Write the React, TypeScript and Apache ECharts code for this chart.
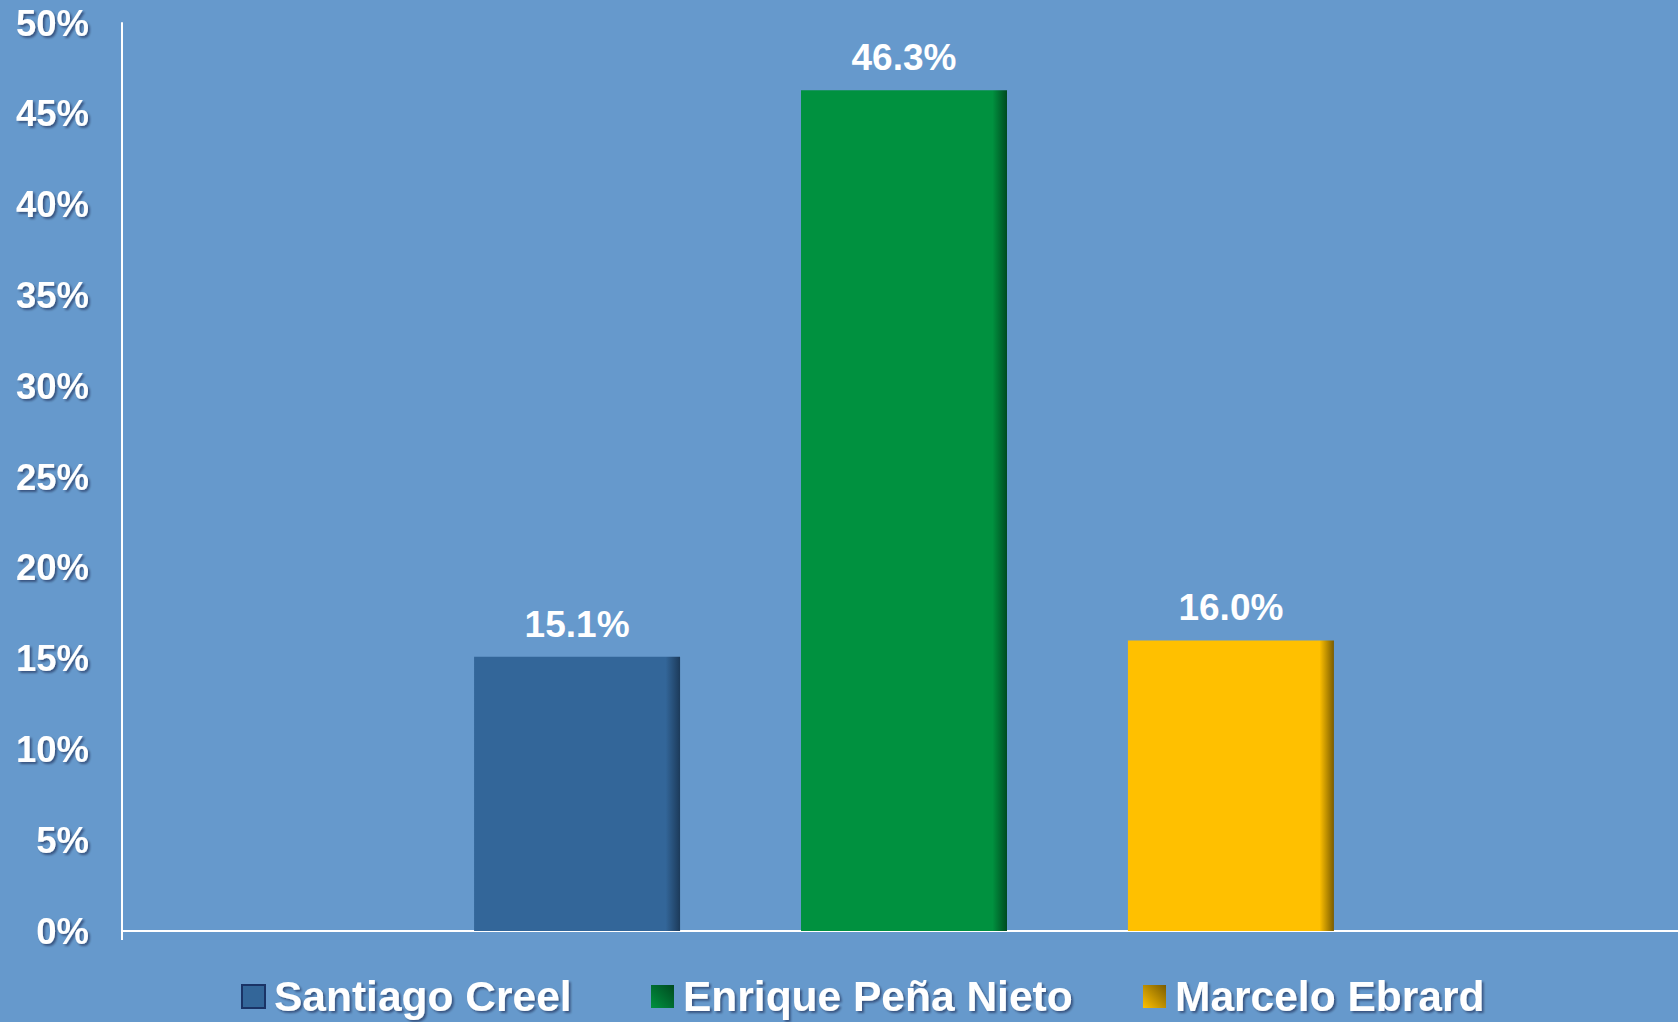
import React, { useEffect, useRef } from "react";
import * as echarts from "echarts";

const categories = [""];
const candidates = ["Santiago Creel", "Enrique Peña Nieto", "Marcelo Ebrard"];
const values = [15.1, 46.3, 16.0];
const baseColors = ["#336699", "#00913f", "#ffc000"];
const edgeColors = ["#1c3a5a", "#004a1f", "#7a5c00"];
const yTicks = { min: 0, max: 50, interval: 5 };
const legendLefts = [241, 651, 1143];

const FONT = "'Liberation Sans', Arial, sans-serif";

export default function App() {
  const ref = useRef<HTMLDivElement>(null);
  useEffect(() => {
    document.body.style.margin = "0";
    const chart = echarts.init(ref.current!, null, { renderer: "svg" });
    const series = candidates.map((name, i) => ({
      name,
      type: "bar",
      data: [values[i]],
      barWidth: 206,
      barGap: "58.7%",
      itemStyle: {
        color: new echarts.graphic.LinearGradient(0, 0, 1, 0, [
          { offset: 0, color: baseColors[i] },
          { offset: 0.93, color: baseColors[i] },
          { offset: 1, color: edgeColors[i] },
        ]),
      },
      label: {
        show: true,
        position: "top",
        distance: 14,
        formatter: (p: any) => p.value.toFixed(1) + "%",
        color: "#ffffff",
        fontSize: 37,
        fontWeight: "bold",
        fontFamily: FONT,
      },
    }));
    const legends = candidates.map((name, i) => ({
      left: legendLefts[i],
      bottom: 4,
      padding: 0,
      itemWidth: 23,
      itemHeight: 23,
      icon: "rect",
      data: [
        {
          name,
          itemStyle: {
            color:
              i === 0
                ? baseColors[0]
                : new echarts.graphic.LinearGradient(0, 1, 1, 0, [
                    { offset: 0, color: baseColors[i] },
                    { offset: 1, color: edgeColors[i] },
                  ]),
            borderColor: i === 0 ? "#1a3366" : "transparent",
            borderWidth: i === 0 ? 2 : 0,
          },
        },
      ],
      textStyle: {
        color: "#ffffff",
        fontSize: 42.5,
        fontWeight: "bold",
        fontFamily: FONT,
        textShadowColor: "rgba(0,0,40,0.45)",
        textShadowBlur: 2,
        textShadowOffsetX: 2,
        textShadowOffsetY: 2,
        padding: [0, 0, 0, 4],
      },
    }));
    chart.setOption({
      animation: false,
      backgroundColor: "#6699cc",
      grid: { left: 122, width: 1564, top: 23, bottom: 91, outerBoundsMode: "none" },
      legend: legends,
      xAxis: {
        type: "category",
        data: categories,
        axisLine: { lineStyle: { color: "#ffffff", width: 2 } },
        axisTick: { show: true, length: 9, lineStyle: { color: "#ffffff", width: 2 } },
        axisLabel: { show: false },
      },
      yAxis: {
        type: "value",
        min: yTicks.min,
        max: yTicks.max,
        interval: yTicks.interval,
        splitLine: { show: false },
        axisTick: { show: false },
        axisLine: { show: true, lineStyle: { color: "#ffffff", width: 2 } },
        axisLabel: {
          formatter: "{value}%",
          margin: 33,
          color: "#ffffff",
          fontSize: 36.5,
          fontWeight: "bold",
          fontFamily: FONT,
          textShadowColor: "rgba(0,0,40,0.45)",
          textShadowBlur: 2,
          textShadowOffsetX: 2,
          textShadowOffsetY: 2,
        },
      },
      series,
    });
    return () => chart.dispose();
  }, []);
  return <div ref={ref} style={{ width: 1678, height: 1022 }} />;
}
